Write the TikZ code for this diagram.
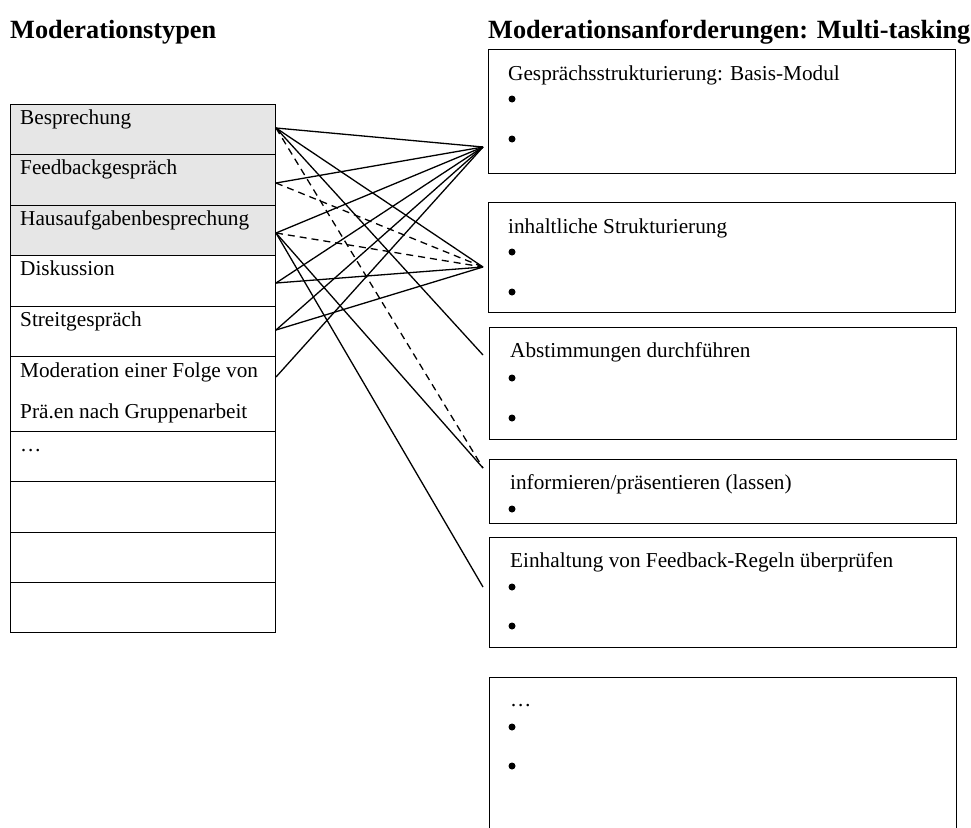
\documentclass[tikz,border=0pt]{standalone}
\usepackage{fontspec}
\setmainfont{Liberation Serif}
\definecolor{cellgray}{HTML}{E6E6E6}
\begin{document}
\begin{tikzpicture}[x=1pt,y=-1pt,
  cell/.style={draw, line width=1.4pt, anchor=north west, minimum width=265pt, inner sep=0pt},
  shaded/.style={fill=cellgray},
  reqbox/.style={draw, line width=1.4pt, anchor=north west, minimum width=467pt, inner sep=0pt},
  txt/.style={anchor=base west, inner sep=0pt, font=\fontsize{21.25}{25}\selectfont},
  head/.style={anchor=base west, inner sep=0pt, font=\fontsize{26.3}{30}\selectfont\bfseries},
  link/.style={line width=1.3pt},
  dlink/.style={link, dash pattern=on 7pt off 5pt},
  dot/.style={circle, fill, inner sep=0pt, minimum size=7pt}
]
\useasboundingbox (0,0) rectangle (971,827);
\clip (0,0) rectangle (971,827);

% headings
\node[head] (h1) at (10,38) {Moderationstypen};
\node[head] (h2) at (488,38) {Moderationsanforderungen: Multi-tasking};

% table of moderation types
\node[cell, shaded, minimum height=50pt] (r1) at (10,104) {};
\node[cell, shaded, minimum height=51pt] (r2) at (10,154) {};
\node[cell, shaded, minimum height=50pt] (r3) at (10,205) {};
\node[cell, minimum height=51pt] (r4) at (10,255) {};
\node[cell, minimum height=50pt] (r5) at (10,306) {};
\node[cell, minimum height=75pt] (r6) at (10,356) {};
\node[cell, minimum height=50pt] (r7) at (10,431) {};
\node[cell, minimum height=51pt] (r8) at (10,481) {};
\node[cell, minimum height=50pt] (r9) at (10,532) {};
\node[cell, minimum height=50pt] (r10) at (10,582) {};

\node[txt] (t1) at (20,124) {Besprechung};
\node[txt] (t2) at (20,174) {Feedbackgespräch};
\node[txt] (t3) at (20,225) {Hausaufgabenbesprechung};
\node[txt] (t4) at (20,275) {Diskussion};
\node[txt] (t5) at (20,326) {Streitgespräch};
\node[txt] (t6a) at (20,377) {Moderation einer Folge von};
\node[txt] (t6b) at (20,418) {Prä.en nach Gruppenarbeit};
\node[txt] (t7) at (20,451) {…};

% requirement boxes
\node[reqbox, minimum height=124pt] (k1) at (488,49) {};
\node[reqbox, minimum height=110pt] (k2) at (488,202) {};
\node[reqbox, minimum height=112pt] (k3) at (489,327) {};
\node[reqbox, minimum height=64pt]  (k4) at (489,459) {};
\node[reqbox, minimum height=110pt] (k5) at (489,537) {};
\node[reqbox, minimum height=200pt] (k6) at (489,677) {};

\node[txt] (k1t) at (508,80) {Gesprächsstrukturierung: Basis-Modul};
\node[dot] (k1a) at (512,99) {};
\node[dot] (k1b) at (512,139) {};
\node[txt] (k2t) at (508,233) {inhaltliche Strukturierung};
\node[dot] (k2a) at (512,252) {};
\node[dot] (k2b) at (512,292) {};
\node[txt] (k3t) at (510,357) {Abstimmungen durchführen};
\node[dot] (k3a) at (512,378) {};
\node[dot] (k3b) at (512,418) {};
\node[txt] (k4t) at (510,489) {informieren/präsentieren (lassen)};
\node[dot] (k4a) at (512,509) {};
\node[txt] (k5t) at (510,567) {Einhaltung von Feedback-Regeln überprüfen};
\node[dot] (k5a) at (512,587) {};
\node[dot] (k5b) at (512,626) {};
\node[txt] (k6t) at (510,706) {…};
\node[dot] (k6a) at (512,727) {};
\node[dot] (k6b) at (512,766) {};

% connector end points
\coordinate (o1) at (276,128);
\coordinate (o2) at (276,183);
\coordinate (o3) at (276,233);
\coordinate (o4) at (276,283);
\coordinate (o5) at (276,330);
\coordinate (o6) at (276,377);
\coordinate (iA) at (483,147);
\coordinate (iB) at (483,267);
\coordinate (iC) at (483,355);
\coordinate (iD) at (483,468);
\coordinate (iE) at (483,587);

% connectors
\draw[link] (o1) -- (iA);
\draw[link] (o1) -- (iB);
\draw[link] (o1) -- (iC);
\draw[dlink] (o1) -- (iD);
\draw[link] (o2) -- (iA);
\draw[dlink] (o2) -- (iB);
\draw[link] (o3) -- (iA);
\draw[dlink] (o3) -- (iB);
\draw[link] (o3) -- (iD);
\draw[link] (o3) -- (iE);
\draw[link] (o4) -- (iA);
\draw[link] (o4) -- (iB);
\draw[link] (o5) -- (iA);
\draw[link] (o5) -- (iB);
\draw[link] (o6) -- (iA);
\end{tikzpicture}
\end{document}
